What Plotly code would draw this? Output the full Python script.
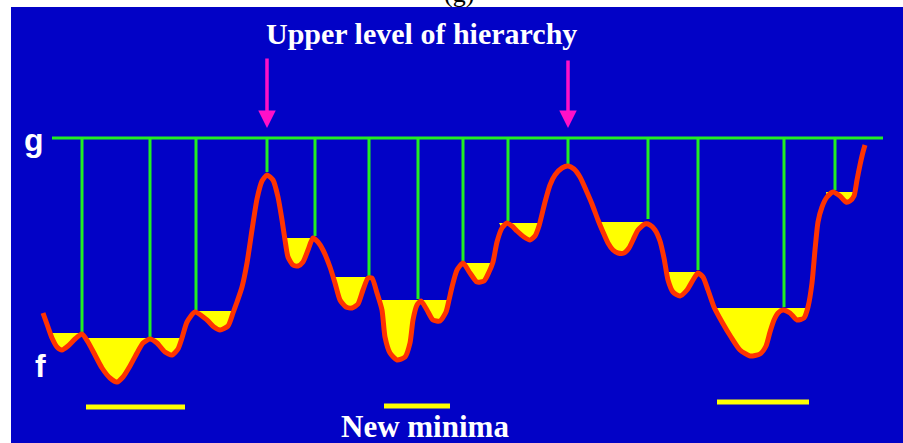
import plotly.graph_objects as go

# ---- data (image-pixel coordinates, y grows downward) ----
curve_x = [43, 48, 52, 57, 62, 68, 75, 82, 88, 95, 102, 110, 117, 123, 130, 137, 143, 150, 157, 165,
           172, 178, 182, 187, 195, 207, 214, 220, 228, 233, 237, 242, 247, 252, 257, 262, 267, 273, 278,
           282, 285, 288, 293, 298, 303, 308, 313, 318, 323, 330, 335, 340, 346, 352, 358, 363, 368, 372,
           377, 382, 385, 390, 397, 405, 410, 413, 417, 421, 427, 433, 440, 446, 449, 452, 457, 463, 470,
           477, 484, 489, 493, 497, 502, 507, 512, 517, 524, 530, 535, 539, 545, 550, 555, 562, 568, 574,
           580, 586, 592, 598, 603, 608, 613, 618, 624, 629, 633, 638, 645, 650, 655, 660, 664, 668, 673,
           680, 687, 693, 698, 703, 708, 714, 722, 731, 740, 750, 760, 766, 770, 774, 778, 783, 790, 797,
           804, 808, 812, 815, 818, 822, 827, 833, 840, 846, 850, 854, 857, 860, 863, 865]
curve_y = [313, 327, 338, 347, 350, 346, 339, 334, 342, 355, 368, 378, 382, 377, 366, 353, 343, 339, 343, 352,
           355, 349, 338, 322, 312, 320, 327, 330, 326, 313, 302, 287, 263, 230, 199, 181, 175, 180, 197,
           220, 240, 257, 265, 266, 262, 250, 238, 242, 250, 267, 283, 300, 307, 308, 304, 290, 278, 278,
           293, 310, 337, 353, 360, 357, 343, 320, 305, 301, 310, 320, 321, 312, 300, 287, 270, 263, 273,
           282, 281, 272, 262, 242, 228, 223, 226, 231, 237, 240, 236, 226, 202, 185, 175, 168, 166, 169,
           177, 190, 204, 220, 232, 243, 250, 253, 253, 248, 240, 230, 224, 225, 230, 241, 258, 280, 292,
           296, 290, 280, 273, 277, 290, 307, 322, 337, 350, 356, 354, 346, 332, 320, 313, 310, 313, 320,
           318, 307, 283, 250, 222, 207, 197, 192, 196, 202, 201, 196, 180, 165, 152, 145]

# basins flooded up to a level: left x, right x, level
basin_left = [50, 85, 197, 286, 333, 380, 458, 499, 598, 666, 712, 826]
basin_right = [82, 182, 234, 313, 369, 449, 492, 540, 646, 698, 808, 856]
basin_level = [333, 338, 311, 238, 277, 300, 263, 223, 222, 272, 308, 192]

# g line and the vertical drops to the curve
g_level = 138
g_start, g_end = 52, 883
drop_x = [82, 150, 196, 267, 315, 369, 418, 463, 508, 568, 648, 698, 784, 835]
drop_bottom = [333, 338, 310, 172, 236, 276, 299, 261, 221, 164, 219, 270, 307, 190]

# "upper level" arrows
arrow_x = [267, 568]
arrow_top = [57, 59]
arrow_head = 128

# new minima bars
bar_left = [86, 384, 717]
bar_right = [185, 450, 809]
bar_y = [407, 406, 402]

BLUE = "#0202c6"
GREEN = "#22ee22"
RED = "#ff3300"
YELLOW = "#ffff00"
MAGENTA = "#ff10c8"

fig = go.Figure()

# yellow basins
for xl, xr, lv in zip(basin_left, basin_right, basin_level):
    xs = [xl]
    ys = [lv]
    for x, y in zip(curve_x, curve_y):
        if xl <= x <= xr:
            xs.append(x)
            ys.append(max(y, lv))
    xs.append(xr)
    ys.append(lv)
    fig.add_trace(go.Scatter(x=xs, y=ys, fill="toself", fillcolor=YELLOW, mode="lines",
                             line=dict(width=0, color=YELLOW), hoverinfo="skip", showlegend=False))

# green g line and drops
gx = [g_start, g_end, None]
gy = [g_level, g_level, None]
for x, b in zip(drop_x, drop_bottom):
    gx += [x, x, None]
    gy += [g_level, b, None]
fig.add_trace(go.Scatter(x=gx, y=gy, mode="lines", line=dict(color=GREEN, width=3),
                         hoverinfo="skip", showlegend=False))

# curve f
fig.add_trace(go.Scatter(x=curve_x, y=curve_y, mode="lines",
                         line=dict(color=RED, width=5, shape="spline", smoothing=0.6),
                         hoverinfo="skip", showlegend=False))

# yellow bars
bx, by = [], []
for l, r, y in zip(bar_left, bar_right, bar_y):
    bx += [l, r, None]
    by += [y, y, None]
fig.add_trace(go.Scatter(x=bx, y=by, mode="lines", line=dict(color=YELLOW, width=5),
                         hoverinfo="skip", showlegend=False))

annotations = []
for x, t in zip(arrow_x, arrow_top):
    annotations.append(dict(x=x, y=arrow_head, ax=x, ay=t, xref="x", yref="y", axref="x", ayref="y",
                            text="", showarrow=True, arrowhead=2, arrowsize=1.0, arrowwidth=3.5,
                            arrowcolor=MAGENTA))
annotations += [
    dict(x=421, y=33, xref="x", yref="y", text="<b>Upper level of hierarchy</b>", showarrow=False,
         font=dict(family="Liberation Serif", size=30, color="white")),
    dict(x=425, y=426, xref="x", yref="y", text="<b>New minima</b>", showarrow=False,
         font=dict(family="Liberation Serif", size=31, color="white")),
    dict(x=34, y=140, xref="x", yref="y", text="<b>g</b>", showarrow=False,
         font=dict(family="Liberation Sans", size=32, color="white")),
    dict(x=40, y=366, xref="x", yref="y", text="<b>f</b>", showarrow=False,
         font=dict(family="Liberation Sans", size=32, color="white")),
    dict(x=459, y=1, xref="x", yref="paper", yanchor="bottom", yshift=-10, text="(g)",
         showarrow=False, font=dict(family="Liberation Serif", size=26, color="black")),
]

fig.update_layout(
    width=903, height=443,
    margin=dict(l=0, r=0, t=0, b=0),
    paper_bgcolor="white", plot_bgcolor="white",
    xaxis=dict(range=[0, 903], visible=False, fixedrange=True),
    yaxis=dict(range=[443, 0], visible=False, fixedrange=True),
    shapes=[dict(type="rect", xref="x", yref="y", x0=11, x1=903, y0=7, y1=443,
                 fillcolor=BLUE, line=dict(width=0), layer="below")],
    annotations=annotations,
    showlegend=False,
)

fig.write_html("out.html", config={"displayModeBar": False},
               post_script="document.body.style.margin='0';document.body.style.overflow='hidden';")
